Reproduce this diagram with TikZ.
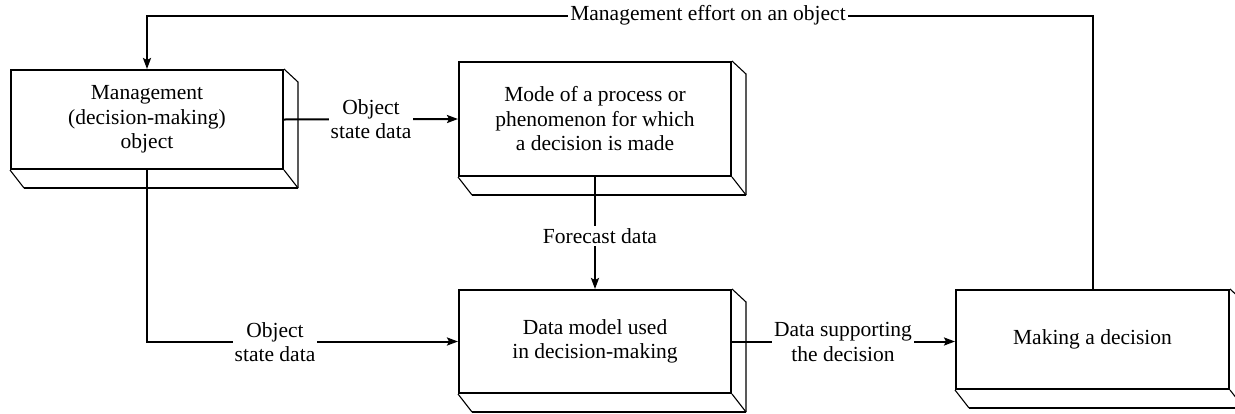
\documentclass[tikz,border=0pt]{standalone}
\usepackage{fontspec}
\setmainfont{Liberation Serif}
\usetikzlibrary{calc,arrows.meta}
\tikzset{
  mainline/.style={line width=2pt},
  thinline/.style={line width=1.1pt},
  fbox/.style={draw, line width=2pt, rectangle, inner sep=0pt, minimum width=272pt, align=center, font=\fontsize{21.5}{24.5}\selectfont},
  lbl/.style={fill=white, inner sep=2pt, align=center, font=\fontsize{21.5}{24.5}\selectfont},
  arr/.style={mainline, -{Stealth[length=11pt,width=8pt,inset=2pt]}},
}
\newcommand\depthbox[1]{%
  \draw[thinline] (#1.north east) -- ++(14,13) -- ($(#1.south east)+(14,18)$);
  \draw[thinline] (#1.south west) -- ++(14,18);
  \draw[thinline] (#1.south east) -- ++(14,18);
  \draw[mainline] ($(#1.south west)+(14,18)$) -- ($(#1.south east)+(14,18)$);
}
\begin{document}
\begin{tikzpicture}[x=1pt,y=-1pt]
\useasboundingbox (0,0) rectangle (1235,413);
\node[fbox, minimum height=99pt] (m) at (147,119.5) {Management\\(decision-making)\\object};
\node[fbox, minimum height=114pt] (p) at (595,119) {Mode of a process or\\phenomenon for which\\a decision is made};
\node[fbox, minimum height=103pt] (db) at (595,341.5) {\raisebox{4pt}{\begin{tabular}{@{}c@{}}Data model used\\in decision-making\end{tabular}}};
\node[fbox, minimum height=99pt, minimum width=273pt] (d) at (1092.5,339.5) {Making a decision};
\depthbox{m}
\depthbox{p}
\depthbox{db}
\depthbox{d}
\coordinate (topy) at (0,15.5);
\draw[arr] (d.north) -- (d.north |- topy) -| (m.north);
\node[lbl] (l1) at (708,15.5) {Management effort on an object};
\draw[arr] (m.east) -- (p.west);
\node[lbl] (l2) at (371,119) {Object\\state data};
\draw[arr] (m.south) |- (db.west);
\node[lbl] (l3) at (275,342) {Object\\state data};
\draw[arr] (p.south) -- (db.north);
\node[lbl] (l4) at (600,236) {Forecast data};
\draw[arr] (db.east) -- (db.east -| d.west);
\node[lbl] (l5) at (843,342) {Data supporting\\the decision};
\end{tikzpicture}
\end{document}
